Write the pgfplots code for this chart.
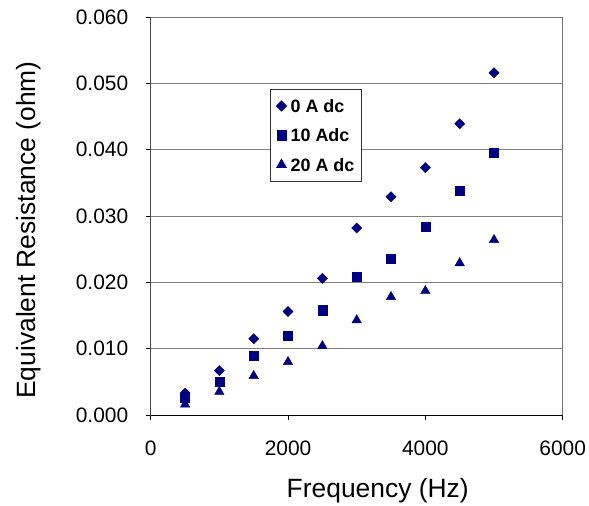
\documentclass[border=0pt]{standalone}
\usepackage{fontspec}
\setmainfont{Liberation Sans}
\usepackage{pgfplots}
\pgfplotsset{compat=1.18}
\usetikzlibrary{calc}
\definecolor{navy}{HTML}{000080}

\begin{document}
\begin{tikzpicture}
\begin{axis}[
    name=ax,
    scale only axis,
    width=412bp, height=398bp,
    xmin=0, xmax=6000, ymin=0, ymax=0.06,
    xtick={0,2000,4000,6000},
    ytick={0,0.01,0.02,0.03,0.04,0.05,0.06},
    scaled y ticks=false,
    scaled x ticks=false,
    /pgf/number format/assume math mode=true,
    xticklabel={\pgfmathprintnumber[1000 sep={}]{\tick}},
    yticklabel={\pgfmathprintnumber[fixed,fixed zerofill,precision=3]{\tick}},
    ticklabel style={font=\fontsize{21}{25}\selectfont},
    xticklabel style={yshift=-17bp},
    yticklabel style={xshift=-14bp},
    tick pos=left,
    tick align=outside,
    major tick length=5bp,
    tick style={black, line width=0.8pt},
    axis line style={draw=black!55, line width=0.8pt},
    ymajorgrids,
    major grid style={draw=black!50, line width=0.8pt},
    label style={font=\fontsize{26.5}{31}\selectfont},
    xlabel={Frequency (Hz)},
    ylabel={Equivalent Resistance (ohm)},
    xlabel style={at={(axis description cs:0.551,0)}, anchor=base, yshift=-82bp},
    ylabel style={at={(axis description cs:0,0.465)}, anchor=base, yshift=114.7bp},
    legend cell align=left,
    legend image code/.code={\path[draw=none,fill=none] (-5bp,-5bp) rectangle (5bp,5bp); \draw[#1] plot coordinates {(0bp,0bp)};},
    legend style={at={(rel axis cs:0.2896,0.819)}, anchor=north west,
        draw=black!80, line width=0.8pt,
        font=\bfseries\fontsize{18}{21}\selectfont,
        inner xsep=6bp, inner ysep=2bp, row sep=0bp, column sep=3bp,
        nodes={inner sep=1bp, text height=20.1bp, text depth=7.2bp}},
]
\addplot[only marks, mark=square*, color=navy, mark size=3.6bp, mark options={rotate=45}] coordinates {
    (500,0.0033) (1000,0.0067) (1500,0.0115) (2000,0.0156) (2500,0.0206)
    (3000,0.0282) (3500,0.0329) (4000,0.0373) (4500,0.0439) (5000,0.0516)
};
\addplot[only marks, mark=square*, color=navy, mark size=4.6bp] coordinates {
    (500,0.0026) (1000,0.0050) (1500,0.0089) (2000,0.0119) (2500,0.0158)
    (3000,0.0208) (3500,0.0236) (4000,0.0284) (4500,0.0338) (5000,0.0396)
};
\addplot[only marks, mark=triangle*, color=navy, mark size=5.5bp] coordinates {
    (500,0.0016) (1000,0.0035) (1500,0.0059) (2000,0.0080) (2500,0.0104)
    (3000,0.0143) (3500,0.0178) (4000,0.0187) (4500,0.0229) (5000,0.0264)
};
\legend{0 A dc, 10 Adc, 20 A dc}
\draw[black, line width=0.8pt] (rel axis cs:0,1) -- (rel axis cs:0,0) -- (rel axis cs:1,0);
\end{axis}
\pgfresetboundingbox
\path[use as bounding box] ($(ax.south west)+(-150.7bp,-91bp)$) rectangle ($(ax.north east)+(26.3bp,17bp)$);
\end{tikzpicture}
\end{document}
